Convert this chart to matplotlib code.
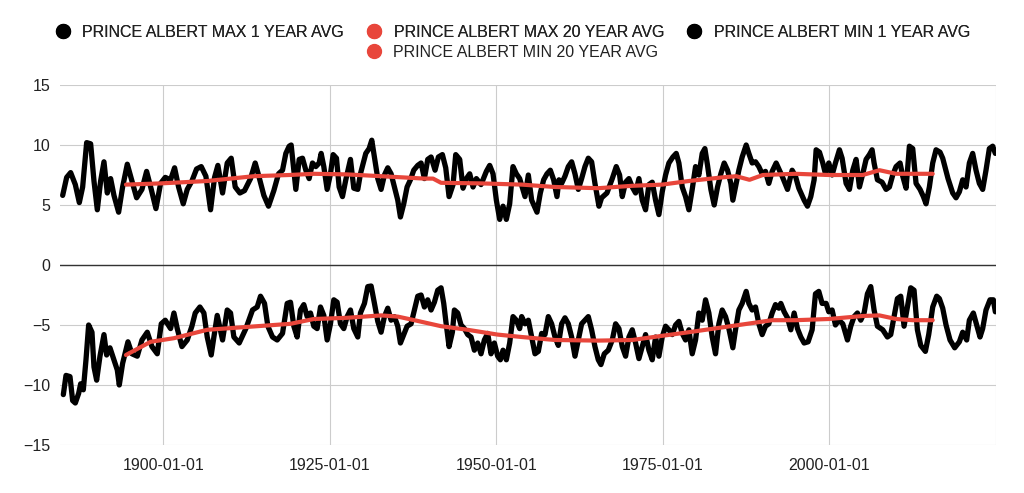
import matplotlib
matplotlib.use("Agg")
from matplotlib import pyplot as plt
from matplotlib.lines import Line2D

# (decimal year, deg C)
max_1yr = [
    (1884.9, 5.8), (1885.5, 7.3), (1886.1, 7.7), (1886.8, 6.7), (1887.4, 5.2),
    (1887.9, 6.5), (1888.5, 10.2), (1889.1, 10.1), (1889.6, 7.0), (1890.1, 4.6),
    (1890.6, 7.0), (1891.1, 8.6), (1891.6, 6.0), (1892.1, 7.2), (1892.6, 5.8),
    (1893.3, 4.4), (1893.9, 6.5), (1894.6, 8.4), (1895.3, 7.0), (1896.0, 5.6),
    (1896.8, 6.3), (1897.5, 7.8), (1898.2, 6.3), (1898.9, 4.7), (1899.6, 6.8),
    (1900.3, 7.3), (1901.1, 7.1), (1901.7, 8.1), (1902.3, 6.5), (1903.0, 5.1),
    (1903.6, 6.3), (1904.3, 7.0), (1905.0, 8.0), (1905.7, 8.2), (1906.4, 7.4),
    (1907.1, 4.6), (1907.7, 7.3), (1908.2, 8.3), (1908.9, 6.0), (1909.6, 8.5),
    (1910.2, 8.9), (1910.8, 6.5), (1911.5, 6.0), (1912.2, 6.2), (1913.1, 7.2),
    (1913.8, 8.5), (1914.3, 7.5), (1915.1, 5.8), (1915.8, 4.9), (1916.6, 6.2),
    (1917.3, 7.6), (1917.9, 7.9), (1918.4, 9.3), (1918.9, 9.9), (1919.2, 10.0),
    (1919.9, 6.3), (1920.4, 8.8), (1920.9, 8.9), (1921.4, 7.9), (1921.9, 7.2),
    (1922.4, 8.5), (1922.9, 8.2), (1923.4, 8.5), (1923.7, 9.3), (1924.1, 8.2),
    (1924.6, 6.3), (1925.1, 7.6), (1925.5, 9.2), (1926.0, 8.9), (1926.4, 6.5),
    (1926.9, 5.7), (1927.4, 7.1), (1928.1, 8.8), (1928.6, 6.4), (1929.2, 6.3),
    (1929.6, 7.6), (1930.4, 9.3), (1930.9, 9.7), (1931.3, 10.4), (1931.7, 9.0),
    (1932.2, 7.2), (1932.7, 6.3), (1933.2, 7.5), (1933.7, 8.1), (1934.2, 7.6),
    (1934.7, 6.5), (1935.2, 5.4), (1935.6, 4.0), (1936.1, 5.1), (1936.6, 6.5),
    (1937.1, 7.1), (1937.6, 7.9), (1938.2, 8.3), (1938.7, 8.5), (1939.2, 7.2),
    (1939.7, 8.8), (1940.2, 9.0), (1940.8, 7.9), (1941.3, 9.0), (1941.9, 9.2),
    (1942.4, 8.1), (1942.9, 5.7), (1943.5, 6.7), (1943.9, 9.2), (1944.5, 8.8),
    (1945.0, 6.4), (1945.5, 7.2), (1946.0, 7.6), (1946.5, 6.5), (1947.0, 7.2),
    (1947.7, 6.7), (1948.5, 7.8), (1949.0, 8.3), (1949.5, 7.6), (1950.0, 5.4),
    (1950.5, 3.8), (1951.0, 4.9), (1951.5, 3.8), (1952.0, 5.1), (1952.5, 8.2),
    (1953.0, 7.6), (1953.5, 7.2), (1954.3, 5.7), (1954.8, 7.5), (1955.3, 5.4),
    (1956.1, 4.4), (1956.6, 6.0), (1957.1, 7.1), (1957.6, 7.6), (1958.1, 7.9),
    (1958.6, 7.1), (1959.1, 5.7), (1959.4, 7.1), (1959.8, 6.8), (1960.3, 7.4),
    (1960.8, 8.2), (1961.3, 8.6), (1961.8, 7.6), (1962.3, 6.3), (1962.8, 7.2),
    (1963.3, 8.2), (1963.8, 8.9), (1964.3, 8.6), (1964.8, 6.8), (1965.4, 4.9),
    (1965.8, 5.6), (1966.6, 6.0), (1967.4, 7.2), (1968.0, 8.2), (1968.5, 7.5),
    (1968.9, 5.7), (1969.4, 6.9), (1969.9, 7.2), (1970.4, 6.5), (1970.9, 6.0),
    (1971.4, 7.2), (1971.9, 5.4), (1972.4, 4.6), (1972.9, 6.7), (1973.4, 6.9),
    (1973.9, 5.4), (1974.4, 4.2), (1974.9, 6.1), (1975.4, 7.5), (1975.9, 8.5),
    (1976.5, 9.0), (1977.0, 9.3), (1977.4, 8.5), (1977.9, 6.5), (1978.4, 5.7),
    (1978.9, 4.6), (1979.4, 6.3), (1979.9, 8.2), (1980.4, 7.5), (1980.9, 9.3),
    (1981.3, 9.7), (1981.7, 8.3), (1982.2, 6.3), (1982.7, 5.0), (1983.2, 6.5),
    (1983.7, 7.6), (1984.2, 8.5), (1984.7, 7.9), (1985.2, 6.8), (1985.5, 5.4),
    (1985.9, 6.5), (1986.4, 7.9), (1986.9, 9.0), (1987.5, 10.0), (1987.9, 9.3),
    (1988.4, 8.5), (1988.9, 8.6), (1989.4, 8.2), (1989.9, 7.6), (1990.4, 7.8),
    (1990.9, 6.8), (1991.4, 7.8), (1992.0, 8.5), (1992.5, 7.9), (1992.9, 7.4),
    (1993.7, 6.3), (1994.4, 7.9), (1994.9, 7.4), (1995.4, 6.4), (1996.2, 5.4),
    (1996.7, 4.9), (1997.2, 5.7), (1997.7, 7.1), (1998.0, 9.6), (1998.5, 9.4),
    (1999.0, 8.5), (1999.4, 7.6), (1999.9, 8.5), (2000.4, 7.5), (2000.9, 8.5),
    (2001.5, 9.6), (2001.9, 8.9), (2002.5, 6.8), (2003.0, 6.3), (2003.5, 7.9),
    (2004.0, 8.8), (2004.5, 6.5), (2005.0, 7.6), (2005.5, 8.8), (2006.0, 9.2),
    (2006.4, 9.6), (2006.7, 8.5), (2007.2, 7.1), (2007.9, 6.9), (2008.5, 6.3),
    (2009.0, 6.5), (2009.5, 7.5), (2010.0, 8.2), (2010.6, 8.5), (2011.0, 7.4),
    (2011.5, 6.4), (2012.0, 9.9), (2012.5, 9.7), (2013.0, 6.8), (2013.6, 6.3),
    (2014.1, 5.7), (2014.5, 5.1), (2015.0, 6.5), (2015.5, 8.5), (2016.0, 9.6),
    (2016.6, 9.4), (2017.0, 8.9), (2017.8, 7.2), (2018.5, 6.0), (2019.0, 5.6),
    (2019.5, 6.1), (2020.0, 7.1), (2020.5, 6.5), (2021.0, 8.5), (2021.5, 9.3),
    (2022.0, 7.9), (2022.5, 6.8), (2023.0, 6.3), (2023.5, 7.9), (2024.0, 9.7),
    (2024.5, 9.9), (2024.9, 9.3),
]

max_20yr = [
    (1894.4, 6.7), (1899.6, 6.8), (1906.6, 7.0), (1913.6, 7.4), (1918.9, 7.5),
    (1922.6, 7.6), (1927.6, 7.55), (1932.7, 7.4), (1936.0, 7.3), (1939.2, 7.2),
    (1940.5, 7.2), (1941.7, 6.85), (1947.7, 6.8), (1953.8, 6.7), (1958.8, 6.5),
    (1965.3, 6.4), (1970.4, 6.6), (1974.9, 6.7), (1978.9, 7.0), (1983.9, 7.3),
    (1986.0, 7.4), (1988.0, 7.1), (1990.0, 7.5), (1994.9, 7.6), (1999.9, 7.5),
    (2005.0, 7.5), (2007.5, 7.9), (2010.0, 7.6), (2015.0, 7.6), (2015.5, 7.6),
]

min_1yr = [
    (1885.0, -10.8), (1885.4, -9.2), (1886.0, -9.3), (1886.4, -11.3), (1886.8, -11.5),
    (1887.3, -10.7), (1887.6, -9.9), (1888.0, -10.4), (1888.4, -7.9), (1888.8, -5.0),
    (1889.3, -5.6), (1889.6, -8.5), (1890.0, -9.6), (1890.5, -7.6), (1891.1, -5.8),
    (1891.5, -7.5), (1892.0, -6.9), (1892.6, -7.9), (1893.1, -8.75), (1893.4, -10.0),
    (1893.9, -8.2), (1894.7, -6.4), (1895.3, -7.4), (1896.1, -7.6), (1896.8, -6.25),
    (1897.6, -5.6), (1898.3, -6.8), (1899.1, -7.4), (1899.7, -4.9), (1900.3, -4.6),
    (1901.1, -5.3), (1901.6, -4.0), (1902.1, -5.3), (1902.8, -6.8), (1903.6, -6.25),
    (1904.3, -5.1), (1904.8, -4.0), (1905.5, -3.5), (1906.1, -4.0), (1906.6, -6.0),
    (1907.2, -7.5), (1907.6, -6.0), (1908.1, -4.2), (1908.9, -6.25), (1909.6, -3.75),
    (1910.1, -4.0), (1910.6, -6.0), (1911.4, -6.5), (1912.4, -5.3), (1913.4, -3.75),
    (1914.1, -3.5), (1914.6, -2.6), (1915.2, -3.2), (1915.7, -5.1), (1916.4, -6.0),
    (1917.1, -6.25), (1917.9, -5.7), (1918.6, -3.2), (1919.1, -3.1), (1919.6, -5.1),
    (1920.1, -6.0), (1920.6, -3.75), (1921.1, -3.3), (1921.6, -4.3), (1922.1, -4.0),
    (1922.6, -5.1), (1923.1, -5.3), (1923.6, -3.5), (1924.1, -4.2), (1924.6, -6.25),
    (1925.1, -4.9), (1925.6, -2.9), (1926.1, -3.1), (1926.6, -4.9), (1927.1, -5.3),
    (1927.6, -4.3), (1928.1, -3.75), (1928.6, -5.3), (1929.2, -6.0), (1929.6, -4.0),
    (1930.2, -3.2), (1930.7, -1.8), (1931.2, -1.75), (1931.7, -3.2), (1932.2, -4.7),
    (1932.7, -5.6), (1933.2, -4.3), (1933.7, -3.6), (1934.2, -4.6), (1934.7, -4.3),
    (1935.2, -5.1), (1935.6, -6.5), (1936.1, -5.8), (1936.6, -5.1), (1937.2, -4.9),
    (1937.7, -3.75), (1938.2, -2.6), (1938.7, -2.5), (1939.2, -3.5), (1939.7, -2.9),
    (1940.2, -3.75), (1940.7, -3.1), (1941.2, -2.1), (1941.7, -1.9), (1942.1, -3.2),
    (1942.4, -4.6), (1942.9, -6.8), (1943.4, -5.6), (1943.7, -3.75), (1944.2, -4.0),
    (1944.7, -5.0), (1945.2, -5.3), (1945.7, -5.8), (1946.2, -6.0), (1946.7, -7.1),
    (1947.2, -6.5), (1947.7, -7.4), (1948.2, -6.25), (1948.7, -5.7), (1949.2, -7.4),
    (1949.7, -6.5), (1950.2, -7.6), (1950.6, -7.9), (1951.0, -7.1), (1951.5, -7.9),
    (1952.0, -6.5), (1952.5, -4.3), (1953.0, -4.6), (1953.5, -5.3), (1953.8, -4.3),
    (1954.3, -4.9), (1954.8, -4.6), (1955.3, -6.0), (1955.8, -7.4), (1956.3, -7.2),
    (1956.8, -5.7), (1957.3, -5.8), (1957.8, -4.3), (1958.3, -4.9), (1958.8, -6.0),
    (1959.3, -6.7), (1959.8, -4.9), (1960.3, -4.4), (1960.8, -4.9), (1961.3, -6.0),
    (1961.8, -7.6), (1962.3, -6.25), (1962.8, -4.9), (1963.3, -4.6), (1963.8, -4.3),
    (1964.3, -5.4), (1964.8, -6.8), (1965.3, -7.9), (1965.7, -8.3), (1966.2, -7.4),
    (1966.8, -7.1), (1967.4, -6.25), (1967.9, -4.9), (1968.4, -5.3), (1968.9, -6.8),
    (1969.4, -7.6), (1969.9, -6.0), (1970.4, -5.4), (1970.9, -6.5), (1971.4, -7.8),
    (1971.9, -6.8), (1972.4, -5.8), (1972.9, -7.1), (1973.4, -7.9), (1973.9, -6.0),
    (1974.4, -7.6), (1974.9, -6.0), (1975.4, -5.1), (1975.9, -5.4), (1976.4, -5.8),
    (1976.9, -5.0), (1977.4, -4.7), (1977.9, -5.7), (1978.4, -6.25), (1978.9, -5.4),
    (1979.4, -7.4), (1979.9, -6.25), (1980.4, -4.0), (1980.9, -4.6), (1981.4, -2.9),
    (1981.9, -4.0), (1982.4, -6.0), (1982.9, -7.4), (1983.4, -4.9), (1983.9, -3.75),
    (1984.4, -4.3), (1984.9, -5.3), (1985.5, -6.9), (1985.9, -5.4), (1986.4, -3.75),
    (1986.9, -3.2), (1987.5, -2.2), (1987.9, -3.2), (1988.4, -3.75), (1988.9, -3.5),
    (1989.4, -4.9), (1989.9, -5.8), (1990.4, -5.1), (1990.9, -4.9), (1991.4, -4.0),
    (1991.9, -3.3), (1992.4, -3.6), (1992.7, -3.2), (1993.2, -3.9), (1993.7, -4.4),
    (1994.2, -5.4), (1994.7, -4.0), (1995.2, -5.3), (1995.7, -6.0), (1996.2, -6.5),
    (1996.8, -6.4), (1997.4, -5.4), (1997.9, -2.4), (1998.4, -2.2), (1998.9, -3.2),
    (1999.5, -3.2), (1999.9, -3.9), (2000.4, -3.75), (2000.9, -5.0), (2001.4, -4.6),
    (2002.0, -4.9), (2002.7, -6.25), (2003.2, -5.1), (2003.7, -4.3), (2004.2, -4.0),
    (2004.7, -4.6), (2005.2, -4.0), (2005.7, -2.4), (2006.2, -1.8), (2006.7, -3.75),
    (2007.2, -5.1), (2008.0, -5.4), (2008.7, -6.0), (2009.2, -5.8), (2009.7, -4.3),
    (2010.2, -2.8), (2010.7, -2.6), (2011.2, -5.1), (2011.7, -3.5), (2012.2, -1.9),
    (2012.7, -2.1), (2013.2, -5.4), (2013.7, -6.7), (2014.4, -7.2), (2014.9, -5.8),
    (2015.5, -3.5), (2016.1, -2.6), (2016.5, -2.8), (2017.0, -3.6), (2017.5, -5.0),
    (2018.1, -6.25), (2018.8, -6.9), (2019.5, -6.4), (2020.0, -5.6), (2020.6, -6.25),
    (2021.0, -4.6), (2021.6, -4.0), (2022.1, -5.0), (2022.6, -6.0), (2023.0, -5.3),
    (2023.5, -3.75), (2024.1, -2.9), (2024.6, -2.9), (2024.9, -3.9),
]

min_20yr = [
    (1894.4, -7.5), (1898.1, -6.4), (1901.6, -6.1), (1906.6, -5.4), (1911.6, -5.2),
    (1919.1, -4.9), (1922.6, -4.5), (1927.6, -4.4), (1932.7, -4.2), (1935.2, -4.3),
    (1937.7, -4.6), (1941.7, -5.1), (1945.7, -5.4), (1950.2, -5.8), (1953.8, -6.0),
    (1958.8, -6.25), (1965.3, -6.3), (1970.4, -6.25), (1974.9, -5.9), (1978.9, -5.6),
    (1983.9, -5.2), (1986.4, -5.0), (1988.9, -4.8), (1991.4, -4.6), (1994.9, -4.6),
    (1999.9, -4.5), (2005.0, -4.25), (2007.5, -4.2), (2010.0, -4.5), (2012.5, -4.6),
    (2015.5, -4.6),
]

labels = ["PRINCE ALBERT MAX 1 YEAR AVG", "PRINCE ALBERT MAX 20 YEAR AVG",
          "PRINCE ALBERT MIN 1 YEAR AVG", "PRINCE ALBERT MIN 20 YEAR AVG"]
x_ticks = [1900, 1925, 1950, 1975, 2000]
x_tick_labels = ["1900-01-01", "1925-01-01", "1950-01-01", "1975-01-01", "2000-01-01"]
y_ticks = [-15, -10, -5, 0, 5, 10, 15]

BLACK = "#000000"
RED = "#e8463b"


def main():
    plt.rcParams['font.family'] = ['Liberation Sans', 'DejaVu Sans']
    fig = plt.figure(figsize=(10.24, 4.93), dpi=100)
    ax = fig.add_axes([60 / 1024, 1 - 445 / 493, 936 / 1024, 360 / 493])

    series = [max_1yr, max_20yr, min_1yr, min_20yr]
    colors = [BLACK, RED, BLACK, RED]
    widths = [3.8, 3.0, 3.8, 3.0]
    for i, data in enumerate(series):
        xs = [p[0] for p in data]
        ys = [p[1] for p in data]
        ax.plot(xs, ys, color=colors[i], lw=widths[i], solid_joinstyle='round',
                solid_capstyle='round', zorder=3 + i)

    ax.set_xlim(1884.5, 2025.0)
    ax.set_ylim(-15, 15)
    ax.set_xticks(x_ticks)
    ax.set_xticklabels(x_tick_labels)
    ax.set_yticks(y_ticks)
    ax.grid(True, color="#cccccc", lw=0.8)
    ax.axvline(2025.0, color="#cccccc", lw=0.8, zorder=1)
    ax.axhline(0, color="#333333", lw=1.0, zorder=2)
    for s in ax.spines.values():
        s.set_visible(False)
    ax.tick_params(length=0, labelsize=11.5, colors="#222222")
    ax.tick_params(axis='y', pad=7)
    ax.tick_params(axis='x', pad=9)
    ax.set_axisbelow(True)

    handles = [Line2D([], [], ls='none', marker='o', markersize=10, color=c)
               for c in colors]
    leg1 = fig.legend(handles[:3], labels[:3], ncol=3, loc='center',
                      bbox_to_anchor=(0.5005, 0.935), frameon=False,
                      fontsize=11.5, handletextpad=0.7, columnspacing=1.4,
                      handlelength=1.0, labelcolor="#222222")
    fig.add_artist(leg1)
    fig.legend(handles[3:], labels[3:], loc='center',
               bbox_to_anchor=(0.5, 0.894), frameon=False, fontsize=11.5,
               handletextpad=0.7, handlelength=1.0, labelcolor="#222222")

    fig.savefig("out.png", dpi=100)


if __name__ == "__main__":
    main()
